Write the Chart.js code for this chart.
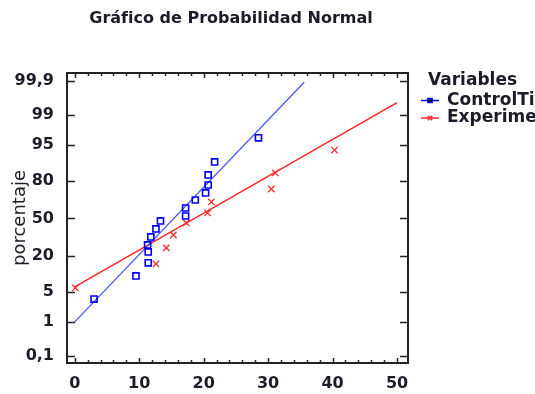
<!DOCTYPE html>
<html lang="es">
<head>
<meta charset="UTF-8">
<title>Gráfico de Probabilidad Normal</title>
<style>
  body { margin: 0; background: #fff; }
  canvas { display: block; }
</style>
</head>
<body>
<canvas id="probChart" width="535" height="394"></canvas>
<script src="https://cdn.jsdelivr.net/npm/chart.js"></script>
<script>
// observaciones y porcentaje acumulado de cada una
const controlX = [3.0, 9.5, 11.4, 11.4, 11.3, 11.8, 12.6, 13.3, 17.2, 17.2, 18.7, 20.3, 20.7, 20.7, 21.7, 28.5];
const controlPct = [3.5, 9.8, 15.9, 22.6, 27.6, 33.9, 40.7, 47.8, 52.2, 59.3, 66.1, 71.7, 77.4, 83.6, 89.8, 96.5];
const experimentX = [0.1, 12.6, 14.2, 15.3, 17.3, 20.6, 21.2, 30.5, 31.1, 40.3];
const experimentPct = [5.9, 15.3, 25.4, 35.5, 46.0, 54.9, 64.5, 74.6, 84.7, 93.8];

// rectas ajustadas (extremos)
const controlFitX = [0, 35.6];
const controlFitPct = [1.0, 99.89];
const experimentFitX = [0, 50];
const experimentFitPct = [6.2, 99.54];

const xTicks = [0, 10, 20, 30, 40, 50];
const yTickPct = [0.1, 1, 5, 20, 50, 80, 95, 99, 99.9];
const yTickLabels = ['0,1', '1', '5', '20', '50', '80', '95', '99', '99,9'];

const seriesNames = ['ControlTiempo', 'Experimental'];
const FONT = "'DejaVu Sans', sans-serif";
const INK = '#1c1c28';

// inversa de la normal acumulada (Acklam)
function probit(p) {
    const a = [-39.69683028665376, 220.9460984245205, -275.9285104469687, 138.3577518672690, -30.66479806614716, 2.506628277459239];
    const b = [-54.47609879822406, 161.5858368580409, -155.6989798598866, 66.80131188771972, -13.28068155288572];
    const c = [-0.007784894002430293, -0.3223964580411365, -2.400758277161838, -2.549732539343734, 4.374664141464968, 2.938163982698783];
    const d = [0.007784695709041462, 0.3224671290700398, 2.445134137142996, 3.754408661907416];
    const plow = 0.02425;
    let q, r;
    if (p < plow) {
        q = Math.sqrt(-2 * Math.log(p));
        return (((((c[0]*q+c[1])*q+c[2])*q+c[3])*q+c[4])*q+c[5]) / ((((d[0]*q+d[1])*q+d[2])*q+d[3])*q+1);
    }
    if (p <= 1 - plow) {
        q = p - 0.5; r = q * q;
        return (((((a[0]*r+a[1])*r+a[2])*r+a[3])*r+a[4])*r+a[5])*q / (((((b[0]*r+b[1])*r+b[2])*r+b[3])*r+b[4])*r+1);
    }
    q = Math.sqrt(-2 * Math.log(1 - p));
    return -(((((c[0]*q+c[1])*q+c[2])*q+c[3])*q+c[4])*q+c[5]) / ((((d[0]*q+d[1])*q+d[2])*q+d[3])*q+1);
}

function toPoints(xs, pcts) {
    return xs.map((x, i) => ({ x: x, y: probit(pcts[i] / 100) }));
}

// marco, marcas interiores, titulo y leyenda
const framePlugin = {
    id: 'frame',
    afterDraw(chart) {
        const { ctx, chartArea: a, scales } = chart;
        const xs = scales.x, ys = scales.y;
        ctx.save();
        ctx.strokeStyle = '#222';
        ctx.lineWidth = 2;
        ctx.strokeRect(a.left, a.top, a.right - a.left, a.bottom - a.top);

        ctx.lineWidth = 1.5;
        ctx.beginPath();
        for (let v = 0; v <= 50; v += 2) {
            const px = Math.round(xs.getPixelForValue(v)) + 0.5;
            const len = v % 10 === 0 ? 5 : 3;
            ctx.moveTo(px, a.bottom); ctx.lineTo(px, a.bottom - len);
            ctx.moveTo(px, a.top); ctx.lineTo(px, a.top + len);
        }
        yTickPct.forEach(p => {
            const py = Math.round(ys.getPixelForValue(probit(p / 100))) + 0.5;
            ctx.moveTo(a.left, py); ctx.lineTo(a.left + 8, py);
            ctx.moveTo(a.right, py); ctx.lineTo(a.right - 8, py);
        });
        ctx.stroke();

        // titulo
        ctx.fillStyle = INK;
        ctx.font = 'bold 16px ' + FONT;
        ctx.textAlign = 'center';
        ctx.textBaseline = 'middle';
        ctx.fillText('Gráfico de Probabilidad Normal', 231, 19);

        // leyenda
        ctx.textAlign = 'left';
        ctx.font = 'bold 17px ' + FONT;
        ctx.fillText('Variables', 428, 81);
        const ds = chart.data.datasets;
        [[0, 100.5], [2, 118]].forEach(([k, y], i) => {
            const d = ds[k];
            ctx.strokeStyle = d.borderColor;
            ctx.lineWidth = 1.5;
            ctx.beginPath();
            ctx.moveTo(421, y); ctx.lineTo(439, y);
            ctx.stroke();
            Chart.helpers.drawPoint(ctx, { pointStyle: d.pointStyle, radius: 3, borderWidth: 1.5, rotation: 0 }, 430, y);
            ctx.fillStyle = INK;
            ctx.fillText(seriesNames[i], 447, y);
        });
        ctx.restore();
    }
};

const ctx = document.getElementById('probChart').getContext('2d');

new Chart(ctx, {
    type: 'scatter',
    data: {
        datasets: [
            {
                label: seriesNames[0],
                data: toPoints(controlX, controlPct),
                pointStyle: 'rect',
                pointRadius: 4.3,
                borderColor: '#0000ee',
                backgroundColor: 'rgba(0,0,0,0)',
                borderWidth: 1.6
            },
            {
                label: seriesNames[0] + ' ajuste',
                type: 'line',
                data: toPoints(controlFitX, controlFitPct),
                borderColor: '#4050ff',
                borderWidth: 1.2,
                pointRadius: 0,
                fill: false
            },
            {
                label: seriesNames[1],
                data: toPoints(experimentX, experimentPct),
                pointStyle: 'crossRot',
                pointRadius: 4.5,
                borderColor: '#ff2a2a',
                backgroundColor: '#ff2a2a',
                borderWidth: 1.3
            },
            {
                label: seriesNames[1] + ' ajuste',
                type: 'line',
                data: toPoints(experimentFitX, experimentFitPct),
                borderColor: '#ff2020',
                borderWidth: 1.3,
                pointRadius: 0,
                fill: false
            }
        ]
    },
    plugins: [framePlugin],
    options: {
        responsive: false,
        animation: false,
        devicePixelRatio: 1,
        layout: { padding: { top: 73, right: 127, left: 0, bottom: 0 } },
        plugins: {
            legend: { display: false },
            tooltip: { enabled: false },
            title: { display: false }
        },
        scales: {
            x: {
                type: 'linear',
                min: -1.2,
                max: 51.7,
                grid: { display: false },
                border: { display: false },
                afterFit(scale) { scale.height = 31; },
                afterBuildTicks(scale) { scale.ticks = xTicks.map(v => ({ value: v })); },
                ticks: {
                    color: INK,
                    padding: 3,
                    font: { family: FONT, weight: 'bold', size: 16 }
                }
            },
            y: {
                type: 'linear',
                min: -3.25,
                max: 3.27,
                grid: { display: false },
                border: { display: false },
                afterFit(scale) { scale.width = 67; },
                afterBuildTicks(scale) { scale.ticks = yTickPct.map(p => ({ value: probit(p / 100) })); },
                ticks: {
                    color: INK,
                    padding: 5,
                    font: { family: FONT, weight: 'bold', size: 16 },
                    callback: (value, index) => yTickLabels[index]
                },
                title: {
                    display: true,
                    text: 'porcentaje',
                    color: INK,
                    padding: { top: 10, bottom: 0 },
                    font: { family: FONT, size: 18 }
                }
            }
        }
    }
});
</script>
</body>
</html>
